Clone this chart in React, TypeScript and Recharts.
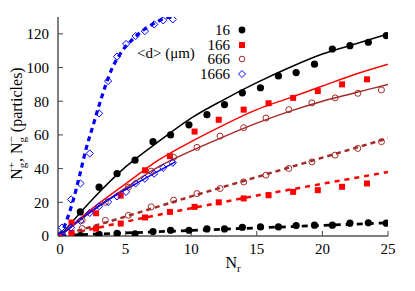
import { ComposedChart, Line, Scatter, XAxis, YAxis, Legend } from 'recharts';

const FONT = 'Liberation Serif, Times New Roman, DejaVu Serif, serif';
const BROWN = '#a52a2a';

// measured points: N_r on x, N_g+ (upper) and N_g- (lower) on y
const nr16 = [0, 1.55, 2.98, 4.35, 5.72, 7.09, 8.43, 9.83, 11.2, 12.54, 13.9, 15.28, 16.65, 18.0, 19.4, 20.76, 22.1, 23.5, 24.87];
const plus16 = [0, 14.3, 29, 37, 45, 56, 60, 66, 72, 78, 85, 88, 95, 97, 102, 111, 113, 115, 119];
const minus16 = [0, 0.3, 1, 1.5, 1.3, 2.6, 3.4, 3.4, 4.2, 4.2, 5.2, 5.4, 5.4, 6.2, 6.4, 6.4, 7.6, 7.8, 7.6];

const nr166 = [0, 0.88, 2.75, 4.63, 6.48, 8.38, 10.26, 12.1, 14.0, 15.9, 17.77, 19.65, 21.5, 23.4];
const plus166 = [0, 8, 13.5, 24, 39, 47.4, 62, 69, 75, 78.8, 82, 86, 90, 93];
const minus166 = [0, 1.8, 4.4, 7.4, 11, 14.3, 17.3, 20, 22.3, 24.2, 26.2, 27.2, 29.2, 31.2];

const nr666 = [0, 1.69, 3.46, 5.22, 6.95, 8.66, 10.44, 12.2, 14.0, 15.7, 17.44, 19.2, 20.97, 22.7, 24.5];
const plus666 = [0, 9.3, 20, 29, 38.5, 46.7, 52.6, 59.3, 64.3, 70, 75, 79, 82, 84.7, 86.7];
const minus666 = [0, 4.4, 9.3, 12.3, 17.3, 21.3, 25.2, 28.2, 32.1, 36.1, 40.1, 44, 48, 52, 56];

const nr1666 = [0, 0.15, 0.85, 1.56, 2.27, 2.98, 3.67, 4.35, 5.04, 5.77, 6.47, 7.18, 7.87, 8.6];
const plus1666 = [0, 5, 21.7, 31.2, 49, 72.8, 92, 106.5, 114, 118.7, 121.6, 125.6, 128, 128.6];
const minus1666 = [0, 1, 5, 9, 13.7, 17.7, 20.2, 23.5, 26.2, 31.2, 34, 37, 40.5, 43.5];

// fitted curves
const fitX = [0, 2.5, 5, 7.5, 10, 12.5, 15, 17.5, 20, 22.5, 25];
const fit16 = [0, 22, 41, 56, 70, 81, 91, 100, 108, 114, 120];
const fit166 = [0, 16.5, 31, 45, 56, 66, 75, 82, 89, 96, 102];
const fit666 = [0, 15, 28.5, 41, 50.5, 59, 67, 74, 80, 85, 90];

const dashX = [0, 5, 10, 15, 20, 25];
const dash16 = [0.3, 1.8, 3.3, 4.8, 6.3, 7.8];
const dash166 = [0, 8.5, 16.5, 24, 31, 38];
const dash666 = [0, 11.5, 23.5, 35, 46.5, 58];

const fit1666X = [0, 2, 4, 6, 8.8];
const fit1666 = [0, 12.5, 23, 32, 44];
const dash1666X = [0, 0.5, 1, 1.5, 2, 2.5, 3, 3.5, 4, 4.5, 5, 5.5, 6, 6.5, 7, 7.5, 8, 8.6];
const dash1666 = [0, 9, 21, 36, 52, 65, 78, 90, 100, 107, 112.5, 116.5, 120, 123, 125.5, 127.5, 129.5, 130];

const xTicks = [0, 5, 10, 15, 20, 25];
const yTicks = [0, 20, 40, 60, 80, 100, 120];
const legendLabels = ['16', '166', '666', '1666'];

const pts = (xs: number[], ys: number[]) => xs.map((x, i) => ({ x, y: ys[i] }));

const dotBlack = (p: any) => <circle cx={p.cx} cy={p.cy} r={3.6} fill="#000" />;
const dotRed = (p: any) => <rect x={p.cx - 3} y={p.cy - 3} width={6} height={6} fill="#ff0000" />;
const dotBrown = (p: any) => <circle cx={p.cx} cy={p.cy} r={3} fill="none" stroke={BROWN} strokeWidth={1} />;
const dotBlue = (p: any) => (
  <path d={`M${p.cx},${p.cy - 3.6}L${p.cx + 3.6},${p.cy}L${p.cx},${p.cy + 3.6}L${p.cx - 3.6},${p.cy}Z`} fill="none" stroke="#0000ff" strokeWidth={1} />
);

const symbols = [
  <circle cx={4} cy={4} r={3.4} fill="#000" />,
  <rect x={1} y={1} width={6} height={6} fill="#ff0000" />,
  <circle cx={4} cy={4} r={2.8} fill="none" stroke={BROWN} />,
  <path d="M4,0.5L7.5,4L4,7.5L0.5,4Z" fill="none" stroke="#0000ff" />,
];

const renderLegend = () => (
  <div style={{ position: 'relative', width: 120, height: 60, fontFamily: FONT, fontSize: 15, color: '#000' }}>
    <div style={{ position: 'absolute', left: 4, top: 22.5, lineHeight: '15px', whiteSpace: 'nowrap' }}>&lt;d&gt; (μm)</div>
    {legendLabels.map((lab, i) => (
      <div key={lab} style={{ position: 'absolute', left: 0, top: i * 14.5, height: 14.5, lineHeight: '14.5px', display: 'flex', alignItems: 'center' }}>
        <span style={{ width: 97, textAlign: 'right', display: 'inline-block' }}>{lab}</span>
        <svg width={8} height={8} style={{ marginLeft: 8 }}>{symbols[i]}</svg>
      </div>
    ))}
  </div>
);

const xLabel = (props: any) => {
  const { x, y, width } = props.viewBox;
  return (
    <text x={x + width / 2 + 10} y={y + 32} textAnchor="middle" fontFamily={FONT} fontSize={16} fill="#000">
      N<tspan fontSize={11} dy={4}>r</tspan>
    </text>
  );
};

const yLabel = (props: any) => {
  const { y, height } = props.viewBox;
  const cx = 22;
  const cy = y + height / 2 - 3;
  return (
    <text x={cx} y={cy} transform={`rotate(-90, ${cx}, ${cy})`} textAnchor="middle" fontFamily={FONT} fontSize={16} fill="#000">
      N<tspan fontSize={11} dy={4}>g</tspan>
      <tspan fontSize={11} dx={-5.5} dy={-11}>+</tspan>
      <tspan dy={7}>, N</tspan>
      <tspan fontSize={11} dy={4}>g</tspan>
      <tspan fontSize={11} dx={-5.5} dy={-11}>−</tspan>
      <tspan dy={7}> (particles)</tspan>
    </text>
  );
};

const tickStyle = { fill: '#000', fontSize: 15, fontFamily: FONT };

export default function App() {
  const ax = { xAxisId: 'b', yAxisId: 'l', isAnimationActive: false } as const;
  return (
    <div style={{ margin: -8, width: 415, height: 291, fontFamily: FONT }}>
      <ComposedChart width={415} height={291} margin={{ top: 17, right: 27, bottom: 0, left: 0 }} style={{ fontFamily: FONT }}>
        <XAxis
          xAxisId="b"
          type="number"
          dataKey="x"
          domain={[-0.15, 25]}
          ticks={xTicks}
          allowDataOverflow
          tickSize={-5}
          tickMargin={12}
          height={55}
          axisLine={{ stroke: '#000' }}
          tickLine={{ stroke: '#444' }}
          tick={tickStyle}
          label={xLabel}
        />
        <XAxis
          xAxisId="t"
          orientation="top"
          type="number"
          dataKey="x"
          domain={[-0.15, 25]}
          ticks={[5, 10, 15, 20]}
          allowDataOverflow
          tickSize={-5}
          height={0}
          tick={false}
          axisLine={{ stroke: '#444', strokeWidth: 1.3 }}
          tickLine={{ stroke: '#444' }}
        />
        <YAxis
          yAxisId="l"
          type="number"
          domain={[0, 130]}
          ticks={yTicks}
          allowDataOverflow
          tickSize={-5}
          tickMargin={14}
          width={58}
          axisLine={{ stroke: '#000' }}
          tickLine={{ stroke: '#444' }}
          tick={tickStyle}
          label={yLabel}
        />
        <YAxis
          yAxisId="r"
          orientation="right"
          type="number"
          domain={[0, 130]}
          ticks={[20, 40, 60, 80, 100, 120]}
          allowDataOverflow
          tickSize={-5}
          width={0}
          tick={false}
          axisLine={{ stroke: '#444', strokeWidth: 1.3 }}
          tickLine={{ stroke: '#444' }}
        />
        <Legend layout="vertical" align="center" verticalAlign="middle" content={renderLegend} wrapperStyle={{ left: 133, top: 23, width: 120, height: 60 }} />

        <Line {...ax} data={pts(fitX, fit16)} dataKey="y" type="monotone" stroke="#000" strokeWidth={1.5} dot={false} />
        <Line {...ax} data={pts(fitX, fit166)} dataKey="y" type="monotone" stroke="#ff0000" strokeWidth={1.5} dot={false} />
        <Line {...ax} data={pts(fitX, fit666)} dataKey="y" type="monotone" stroke={BROWN} strokeWidth={1.5} dot={false} />
        <Line {...ax} data={pts(fit1666X, fit1666)} dataKey="y" type="monotone" stroke="#0000ff" strokeWidth={1.5} dot={false} />
        <Line {...ax} data={pts(dashX, dash16)} dataKey="y" type="linear" stroke="#000" strokeWidth={2.8} strokeDasharray="6 5" dot={false} />
        <Line {...ax} data={pts(dashX, dash166)} dataKey="y" type="linear" stroke="#ff0000" strokeWidth={2.5} strokeDasharray="5 5" dot={false} />
        <Line {...ax} data={pts(dashX, dash666)} dataKey="y" type="linear" stroke={BROWN} strokeWidth={2.5} strokeDasharray="5 4" dot={false} />
        <Line {...ax} data={pts(dash1666X, dash1666)} dataKey="y" type="monotone" stroke="#0000ff" strokeWidth={3.2} strokeDasharray="5 4" dot={false} />

        <Scatter {...ax} data={pts(nr16, plus16)} dataKey="y" shape={dotBlack} />
        <Scatter {...ax} data={pts(nr16, minus16)} dataKey="y" shape={dotBlack} />
        <Scatter {...ax} data={pts(nr166, plus166)} dataKey="y" shape={dotRed} />
        <Scatter {...ax} data={pts(nr166, minus166)} dataKey="y" shape={dotRed} />
        <Scatter {...ax} data={pts(nr666, plus666)} dataKey="y" shape={dotBrown} />
        <Scatter {...ax} data={pts(nr666, minus666)} dataKey="y" shape={dotBrown} />
        <Scatter {...ax} data={pts(nr1666, plus1666)} dataKey="y" shape={dotBlue} />
        <Scatter {...ax} data={pts(nr1666, minus1666)} dataKey="y" shape={dotBlue} />
      </ComposedChart>
    </div>
  );
}
